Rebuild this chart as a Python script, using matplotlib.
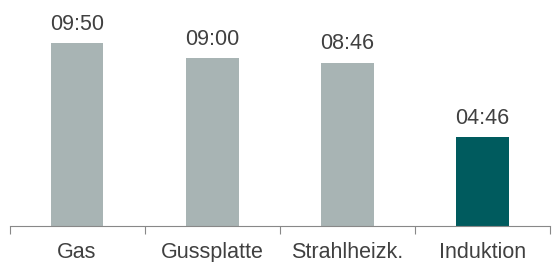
import matplotlib
matplotlib.use("Agg")
import matplotlib.pyplot as plt

plt.rcParams['font.family'] = ['Liberation Sans', 'DejaVu Sans']

categories = ["Gas", "Gussplatte", "Strahlheizk.", "Induktion"]
seconds = [590, 540, 526, 286]
labels = ["09:50", "09:00", "08:46", "04:46"]
colors = ["#a8b4b4", "#a8b4b4", "#a8b4b4", "#005b5e"]

W, H = 553, 262
fig = plt.figure(figsize=(W / 100, H / 100), dpi=100)
left = 9.5 / W
right = 550 / W
base_px = 225.5
top_px = 9
ax = fig.add_axes([left, (H - base_px) / H, right - left, (base_px - top_px) / H])

x = range(len(categories))
ax.bar(x, seconds, width=0.39, color=colors)
for xi, v, lab in zip(x, seconds, labels):
    ax.annotate(lab, (xi, v), xytext=(0, 6), textcoords="offset points",
                ha="center", va="bottom", fontsize=15.5, color="#404040")

ax.set_xlim(-0.5, 3.5)
ax.set_ylim(0, 590 * (base_px - top_px) / (base_px - 43))
ax.set_xticks(list(x))
ax.set_xticklabels(categories, fontsize=15.5, color="#404040")
ax.tick_params(axis="x", which="major", length=0, pad=12)
ax.set_xticks([-0.5, 0.5, 1.5, 2.5, 3.5], minor=True)
ax.tick_params(axis="x", which="minor", length=6, color="#888888", width=0.8)
ax.set_yticks([])
for s in ["top", "right", "left"]:
    ax.spines[s].set_visible(False)
ax.spines["bottom"].set_color("#888888")
ax.spines["bottom"].set_linewidth(0.8)

fig.savefig("out.png", dpi=100)
